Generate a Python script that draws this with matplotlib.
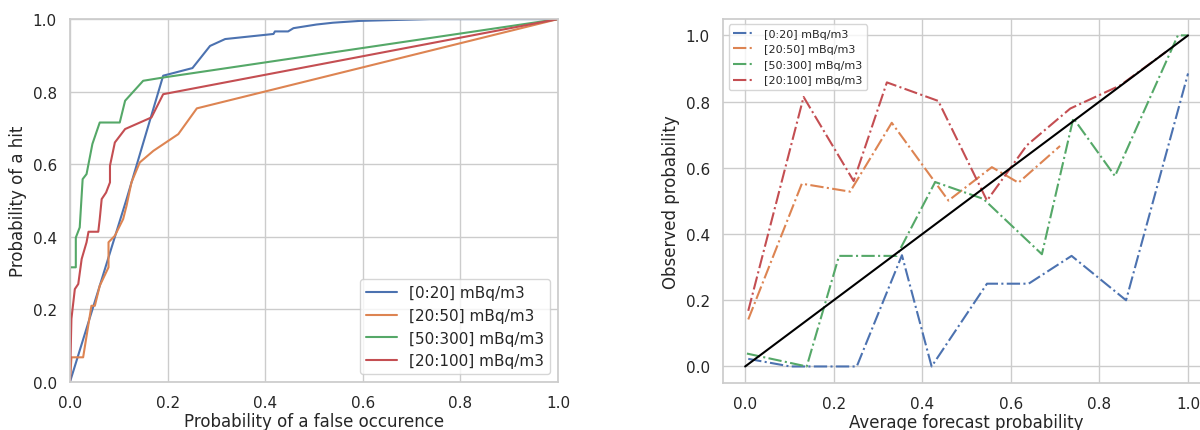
import matplotlib
matplotlib.use("Agg")
import matplotlib.pyplot as plt
import seaborn as sns

sns.set_theme(style="whitegrid")

labels = ["[0:20] mBq/m3", "[20:50] mBq/m3", "[50:300] mBq/m3", "[20:100] mBq/m3"]

# ROC curves (false alarm rate, hit rate)
roc_far = [
    [0.0, 0.116, 0.191, 0.251, 0.287, 0.318, 0.417, 0.42, 0.447, 0.458, 0.505, 0.539, 0.594, 0.738, 1.0],
    [0.0, 0.003, 0.027, 0.044, 0.051, 0.061, 0.079, 0.079, 0.092, 0.109, 0.116, 0.126,
     0.143, 0.171, 0.222, 0.26, 1.0],
    [0.0, 0.0, 0.012, 0.012, 0.02, 0.026, 0.034, 0.046, 0.061, 0.102, 0.113, 0.15, 0.191, 1.0],
    [0.0, 0.003, 0.01, 0.017, 0.024, 0.034, 0.038, 0.058, 0.061, 0.065, 0.074, 0.082,
     0.082, 0.092, 0.113, 0.167, 0.191, 1.0],
]
roc_hit = [
    [0.0, 0.504, 0.844, 0.865, 0.926, 0.945, 0.959, 0.966, 0.966, 0.975, 0.985, 0.99, 0.995, 1.0, 1.0],
    [0.0, 0.068, 0.068, 0.21, 0.21, 0.265, 0.316, 0.385, 0.403, 0.449, 0.486, 0.55,
     0.605, 0.637, 0.683, 0.754, 1.0],
    [0.0, 0.316, 0.316, 0.398, 0.426, 0.559, 0.573, 0.656, 0.715, 0.715, 0.775, 0.83, 0.839, 1.0],
    [0.0, 0.174, 0.256, 0.27, 0.339, 0.385, 0.414, 0.414, 0.449, 0.504, 0.522, 0.55,
     0.596, 0.66, 0.697, 0.729, 0.793, 1.0],
]

# Reliability diagram (forecast probability, observed frequency)
rel_fc = [
    [0.007, 0.102, 0.252, 0.354, 0.421, 0.546, 0.64, 0.737, 0.86, 1.0],
    [0.007, 0.128, 0.237, 0.331, 0.459, 0.557, 0.617, 0.711],
    [0.004, 0.139, 0.212, 0.342, 0.429, 0.538, 0.67, 0.741, 0.835, 0.977, 0.999],
    [0.007, 0.132, 0.245, 0.32, 0.436, 0.546, 0.636, 0.734, 0.847, 0.95],
]
rel_obs = [
    [0.023, 0.0, 0.0, 0.336, 0.0, 0.25, 0.25, 0.334, 0.2, 0.885],
    [0.142, 0.552, 0.528, 0.736, 0.501, 0.602, 0.555, 0.666],
    [0.039, 0.0, 0.334, 0.334, 0.557, 0.506, 0.339, 0.75, 0.575, 1.0, 1.0],
    [0.168, 0.814, 0.56, 0.858, 0.802, 0.501, 0.668, 0.779, 0.849, 0.95],
]

fig = plt.figure(figsize=(12, 4.31), dpi=100)
ax1 = fig.add_axes([0.0583, 0.1114, 0.4067, 0.842])
ax2 = fig.add_axes([0.6025, 0.109, 0.406, 0.845])

for x, y, lab in zip(roc_far, roc_hit, labels):
    ax1.plot(x, y, label=lab, lw=1.5)
ax1.set_xlim(0, 1)
ax1.set_ylim(0, 1)
ax1.set_xlabel("Probability of a false occurence", labelpad=1)
ax1.set_ylabel("Probability of a hit")
ax1.legend(loc="lower right")

for x, y, lab in zip(rel_fc, rel_obs, labels):
    ax2.plot(x, y, "-.", label=lab, lw=1.5)
ax2.plot([0, 1], [0, 1], color="black", lw=1.5)
ax2.set_xlabel("Average forecast probability", labelpad=1)
ax2.set_ylabel("Observed probability")
ax2.legend(loc="upper left", fontsize=8)

fig.savefig("out.png", dpi=100)
